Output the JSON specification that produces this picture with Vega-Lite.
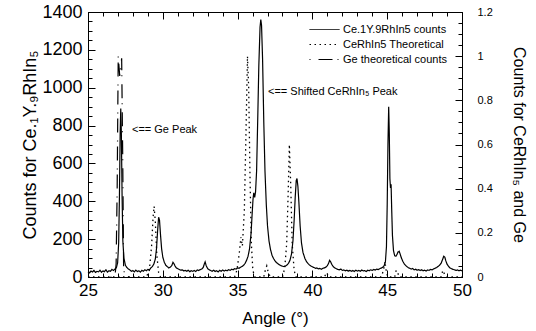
{
  "$schema": "https://vega.github.io/schema/vega-lite/v6.json",
  "width": 374,
  "height": 265,
  "autosize": {"type": "none"},
  "padding": {"left": 88, "top": 12, "right": 74, "bottom": 54},
  "background": "white",
  "config": {
    "font": "Liberation Sans",
    "view": {"stroke": "black", "strokeWidth": 1},
    "axis": {"grid": false, "domainColor": "black", "tickColor": "black", "labelColor": "black", "titleColor": "black", "titleFontWeight": "normal", "labelFont": "Liberation Sans", "titleFont": "Liberation Sans", "labelOverlap": false, "labelFlush": false, "labelBound": false},
    "legend": {"labelFont": "Liberation Sans", "labelFontSize": 11, "labelColor": "black", "symbolType": "M-2,0H2", "symbolSize": 225, "symbolStrokeWidth": 1, "symbolStrokeColor": "black", "symbolFillColor": "transparent", "rowPadding": 2, "labelOffset": 10.5}
  },
  "datasets": {
    "sample": [
      {"angle":25.0,"counts":28},{"angle":25.1,"counts":22},{"angle":25.2,"counts":31},{"angle":25.3,"counts":26},{"angle":25.4,"counts":35},{"angle":25.5,"counts":24},{"angle":25.6,"counts":30},{"angle":25.7,"counts":27},{"angle":25.8,"counts":36},{"angle":25.9,"counts":25},
      {"angle":26.0,"counts":32},{"angle":26.1,"counts":28},{"angle":26.2,"counts":38},{"angle":26.3,"counts":26},{"angle":26.4,"counts":33},{"angle":26.5,"counts":30},{"angle":26.6,"counts":40},{"angle":26.7,"counts":34},{"angle":26.8,"counts":42},{"angle":26.9,"counts":50},
      {"angle":26.98,"counts":75},{"angle":27.05,"counts":180},{"angle":27.1,"counts":420},{"angle":27.15,"counts":760},{"angle":27.19,"counts":890},{"angle":27.23,"counts":760},{"angle":27.28,"counts":420},{"angle":27.33,"counts":190},{"angle":27.4,"counts":100},{"angle":27.5,"counts":62},
      {"angle":27.6,"counts":50},{"angle":27.7,"counts":42},{"angle":27.8,"counts":37},{"angle":27.9,"counts":30},{"angle":28.0,"counts":34},{"angle":28.1,"counts":27},{"angle":28.2,"counts":36},{"angle":28.3,"counts":29},{"angle":28.4,"counts":33},{"angle":28.5,"counts":26},
      {"angle":28.6,"counts":35},{"angle":28.7,"counts":30},{"angle":28.8,"counts":38},{"angle":28.9,"counts":33},{"angle":29.0,"counts":40},{"angle":29.1,"counts":37},{"angle":29.2,"counts":48},{"angle":29.3,"counts":55},{"angle":29.4,"counts":68},{"angle":29.5,"counts":95},
      {"angle":29.58,"counts":150},{"angle":29.65,"counts":240},{"angle":29.72,"counts":316},{"angle":29.78,"counts":300},{"angle":29.85,"counts":220},{"angle":29.92,"counts":150},{"angle":30.0,"counts":105},{"angle":30.1,"counts":78},{"angle":30.2,"counts":62},{"angle":30.3,"counts":55},
      {"angle":30.4,"counts":48},{"angle":30.5,"counts":52},{"angle":30.6,"counts":60},{"angle":30.68,"counts":78},{"angle":30.75,"counts":70},{"angle":30.82,"counts":58},{"angle":30.9,"counts":48},{"angle":31.0,"counts":44},{"angle":31.1,"counts":40},{"angle":31.2,"counts":36},
      {"angle":31.3,"counts":38},{"angle":31.4,"counts":32},{"angle":31.5,"counts":35},{"angle":31.6,"counts":30},{"angle":31.7,"counts":36},{"angle":31.8,"counts":28},{"angle":31.9,"counts":33},{"angle":32.0,"counts":30},{"angle":32.1,"counts":35},{"angle":32.2,"counts":29},
      {"angle":32.3,"counts":37},{"angle":32.4,"counts":34},{"angle":32.5,"counts":39},{"angle":32.6,"counts":42},{"angle":32.7,"counts":50},{"angle":32.78,"counts":70},{"angle":32.83,"counts":80},{"angle":32.9,"counts":60},{"angle":33.0,"counts":44},{"angle":33.1,"counts":38},
      {"angle":33.2,"counts":34},{"angle":33.3,"counts":30},{"angle":33.4,"counts":36},{"angle":33.5,"counts":29},{"angle":33.6,"counts":33},{"angle":33.7,"counts":27},{"angle":33.8,"counts":35},{"angle":33.9,"counts":30},{"angle":34.0,"counts":37},{"angle":34.1,"counts":31},
      {"angle":34.2,"counts":36},{"angle":34.3,"counts":33},{"angle":34.4,"counts":39},{"angle":34.5,"counts":35},{"angle":34.6,"counts":41},{"angle":34.7,"counts":38},{"angle":34.8,"counts":44},{"angle":34.9,"counts":42},{"angle":35.0,"counts":48},{"angle":35.1,"counts":46},
      {"angle":35.2,"counts":52},{"angle":35.3,"counts":56},{"angle":35.4,"counts":62},{"angle":35.5,"counts":72},{"angle":35.6,"counts":88},{"angle":35.7,"counts":110},{"angle":35.8,"counts":150},{"angle":35.9,"counts":230},{"angle":35.97,"counts":330},{"angle":36.03,"counts":410},
      {"angle":36.08,"counts":445},{"angle":36.14,"counts":420},{"angle":36.2,"counts":450},{"angle":36.27,"counts":560},{"angle":36.35,"counts":850},{"angle":36.42,"counts":1120},{"angle":36.5,"counts":1320},{"angle":36.55,"counts":1360},{"angle":36.6,"counts":1330},{"angle":36.67,"counts":1150},
      {"angle":36.75,"counts":820},{"angle":36.83,"counts":560},{"angle":36.92,"counts":380},{"angle":37.0,"counts":270},{"angle":37.1,"counts":190},{"angle":37.2,"counts":145},{"angle":37.3,"counts":115},{"angle":37.4,"counts":98},{"angle":37.5,"counts":85},{"angle":37.6,"counts":76},
      {"angle":37.7,"counts":70},{"angle":37.8,"counts":64},{"angle":37.9,"counts":60},{"angle":38.0,"counts":57},{"angle":38.1,"counts":55},{"angle":38.2,"counts":58},{"angle":38.3,"counts":63},{"angle":38.4,"counts":72},{"angle":38.5,"counts":88},{"angle":38.6,"counts":120},
      {"angle":38.7,"counts":190},{"angle":38.78,"counts":300},{"angle":38.85,"counts":420},{"angle":38.92,"counts":510},{"angle":38.97,"counts":520},{"angle":39.03,"counts":480},{"angle":39.1,"counts":390},{"angle":39.18,"counts":270},{"angle":39.27,"counts":180},{"angle":39.37,"counts":130},
      {"angle":39.5,"counts":98},{"angle":39.6,"counts":82},{"angle":39.7,"counts":72},{"angle":39.8,"counts":64},{"angle":39.9,"counts":58},{"angle":40.0,"counts":54},{"angle":40.1,"counts":50},{"angle":40.2,"counts":46},{"angle":40.3,"counts":48},{"angle":40.4,"counts":43},
      {"angle":40.5,"counts":45},{"angle":40.6,"counts":41},{"angle":40.7,"counts":46},{"angle":40.8,"counts":48},{"angle":40.9,"counts":52},{"angle":41.0,"counts":60},{"angle":41.08,"counts":72},{"angle":41.15,"counts":88},{"angle":41.22,"counts":80},{"angle":41.3,"counts":66},
      {"angle":41.4,"counts":54},{"angle":41.5,"counts":48},{"angle":41.6,"counts":44},{"angle":41.7,"counts":40},{"angle":41.8,"counts":38},{"angle":41.9,"counts":42},{"angle":42.0,"counts":35},{"angle":42.1,"counts":37},{"angle":42.2,"counts":33},{"angle":42.3,"counts":36},
      {"angle":42.4,"counts":31},{"angle":42.5,"counts":35},{"angle":42.6,"counts":30},{"angle":42.7,"counts":34},{"angle":42.8,"counts":29},{"angle":42.9,"counts":36},{"angle":43.0,"counts":31},{"angle":43.1,"counts":35},{"angle":43.2,"counts":30},{"angle":43.3,"counts":37},
      {"angle":43.4,"counts":32},{"angle":43.5,"counts":34},{"angle":43.6,"counts":29},{"angle":43.7,"counts":36},{"angle":43.8,"counts":33},{"angle":43.9,"counts":38},{"angle":44.0,"counts":35},{"angle":44.1,"counts":40},{"angle":44.2,"counts":37},{"angle":44.3,"counts":42},
      {"angle":44.4,"counts":39},{"angle":44.5,"counts":44},{"angle":44.6,"counts":47},{"angle":44.7,"counts":52},{"angle":44.8,"counts":60},{"angle":44.88,"counts":80},{"angle":44.95,"counts":160},{"angle":45.0,"counts":380},{"angle":45.05,"counts":700},{"angle":45.1,"counts":900},
      {"angle":45.14,"counts":760},{"angle":45.18,"counts":520},{"angle":45.22,"counts":470},{"angle":45.26,"counts":490},{"angle":45.3,"counts":360},{"angle":45.35,"counts":220},{"angle":45.42,"counts":140},{"angle":45.5,"counts":112},{"angle":45.58,"counts":110},{"angle":45.65,"counts":118},
      {"angle":45.72,"counts":132},{"angle":45.8,"counts":136},{"angle":45.87,"counts":120},{"angle":45.95,"counts":100},{"angle":46.05,"counts":82},{"angle":46.15,"counts":68},{"angle":46.3,"counts":56},{"angle":46.4,"counts":50},{"angle":46.5,"counts":46},{"angle":46.6,"counts":42},
      {"angle":46.7,"counts":45},{"angle":46.8,"counts":38},{"angle":46.9,"counts":41},{"angle":47.0,"counts":36},{"angle":47.1,"counts":39},{"angle":47.2,"counts":34},{"angle":47.3,"counts":38},{"angle":47.4,"counts":33},{"angle":47.5,"counts":36},{"angle":47.6,"counts":32},
      {"angle":47.7,"counts":37},{"angle":47.8,"counts":35},{"angle":47.9,"counts":40},{"angle":48.0,"counts":38},{"angle":48.1,"counts":43},{"angle":48.2,"counts":46},{"angle":48.3,"counts":50},{"angle":48.4,"counts":56},{"angle":48.5,"counts":62},{"angle":48.6,"counts":72},
      {"angle":48.7,"counts":92},{"angle":48.78,"counts":110},{"angle":48.85,"counts":105},{"angle":48.92,"counts":85},{"angle":49.0,"counts":68},{"angle":49.1,"counts":56},{"angle":49.2,"counts":48},{"angle":49.3,"counts":44},{"angle":49.4,"counts":40},{"angle":49.5,"counts":38},
      {"angle":49.6,"counts":35},{"angle":49.7,"counts":37},{"angle":49.8,"counts":33},{"angle":49.9,"counts":36},{"angle":50.0,"counts":32}
    ],
    "ce": [
      {"angle":25.0,"intensity":0},{"angle":28.9,"intensity":0},{"angle":29.1,"intensity":0.03},{"angle":29.25,"intensity":0.14},{"angle":29.35,"intensity":0.27},{"angle":29.42,"intensity":0.32},{"angle":29.5,"intensity":0.25},{"angle":29.6,"intensity":0.1},{"angle":29.72,"intensity":0.02},{"angle":29.85,"intensity":0},
      {"angle":34.8,"intensity":0},{"angle":34.95,"intensity":0.03},{"angle":35.1,"intensity":0.1},{"angle":35.22,"intensity":0.18},{"angle":35.32,"intensity":0.14},{"angle":35.45,"intensity":0.3},{"angle":35.56,"intensity":0.65},{"angle":35.66,"intensity":1.0},{"angle":35.74,"intensity":0.86},{"angle":35.83,"intensity":0.45},
      {"angle":35.92,"intensity":0.15},{"angle":36.02,"intensity":0.03},{"angle":36.15,"intensity":0},{"angle":36.75,"intensity":0},{"angle":36.85,"intensity":0.03},{"angle":36.95,"intensity":0.05},{"angle":37.05,"intensity":0.02},{"angle":37.2,"intensity":0},
      {"angle":38.0,"intensity":0},{"angle":38.15,"intensity":0.04},{"angle":38.28,"intensity":0.15},{"angle":38.38,"intensity":0.38},{"angle":38.46,"intensity":0.6},{"angle":38.55,"intensity":0.42},{"angle":38.65,"intensity":0.15},{"angle":38.78,"intensity":0.03},{"angle":38.9,"intensity":0},
      {"angle":40.8,"intensity":0},{"angle":40.95,"intensity":0.02},{"angle":41.1,"intensity":0},{"angle":44.6,"intensity":0},{"angle":44.75,"intensity":0.03},{"angle":44.85,"intensity":0.07},{"angle":44.95,"intensity":0.02},{"angle":45.05,"intensity":0},
      {"angle":45.5,"intensity":0},{"angle":45.6,"intensity":0.03},{"angle":45.7,"intensity":0.02},{"angle":45.8,"intensity":0},{"angle":48.6,"intensity":0},{"angle":48.72,"intensity":0.03},{"angle":48.85,"intensity":0.01},{"angle":49.0,"intensity":0},{"angle":50.0,"intensity":0}
    ],
    "ge": [
      {"angle":26.5,"intensity":0},{"angle":26.8,"intensity":0},{"angle":26.88,"intensity":0.06},{"angle":26.95,"intensity":0.4},{"angle":27.02,"intensity":1.0},{"angle":27.12,"intensity":0.91},{"angle":27.25,"intensity":0.99},{"angle":27.32,"intensity":0.55},{"angle":27.38,"intensity":0.05},{"angle":27.45,"intensity":0},{"angle":27.8,"intensity":0}
    ],
    "notes": [
      {"angle":27.94,"counts":774,"label":"<== Ge Peak"},
      {"angle":37.03,"counts":979,"label":"<== Shifted CeRhIn₅ Peak"}
    ]
  },
  "layer": [
    {
      "encoding": {
        "x": {"field": "angle", "type": "quantitative", "scale": {"domain": [25, 50], "nice": false, "zero": false},
          "axis": {"orient": "bottom", "title": "Angle (°)", "titleFontSize": 17, "titlePadding": 9, "labelFontSize": 17, "labelPadding": 12,
            "values": [25,26,27,28,29,30,31,32,33,34,35,36,37,38,39,40,41,42,43,44,45,46,47,48,49,50],
            "labelExpr": "datum.value % 5 === 0 ? datum.label : ''",
            "tickSize": {"condition": {"test": "datum.value % 5 === 0", "value": -7}, "value": -4}}},
        "y": {"field": "counts", "type": "quantitative", "scale": {"domain": [0, 1400], "nice": false},
          "axis": {"orient": "left", "title": "Counts for Ce.₁Y.₉RhIn₅", "titleFontSize": 18, "titlePadding": 2, "labelFontSize": 18, "labelPadding": 13, "format": "d",
            "values": [0,50,100,150,200,250,300,350,400,450,500,550,600,650,700,750,800,850,900,950,1000,1050,1100,1150,1200,1250,1300,1350,1400],
            "labelExpr": "datum.value % 200 === 0 ? datum.label : ''",
            "tickSize": {"condition": {"test": "datum.value % 200 === 0", "value": -7}, "value": -4}}}
      },
      "layer": [
        {"data": {"name": "sample"}, "mark": {"type": "line", "color": "black", "strokeWidth": 1.2},
          "encoding": {"strokeDash": {"datum": "Ce.1Y.9RhIn5 counts", "type": "nominal",
            "scale": {"domain": ["Ce.1Y.9RhIn5 counts", "CeRhIn5 Theoretical", "Ge theoretical counts"], "range": [[1, 0], [1.5, 3.5], [1, 8, 14, 5]]},
            "legend": {"title": null, "orient": "none", "legendX": 228.5, "legendY": 9.5}}}},
        {"data": {"name": "notes"}, "mark": {"type": "text", "align": "left", "baseline": "middle", "fontSize": 11, "color": "black"},
          "encoding": {"text": {"field": "label"}}}
      ]
    },
    {
      "encoding": {
        "x": {"field": "angle", "type": "quantitative", "scale": {"domain": [25, 50], "nice": false, "zero": false},
          "axis": {"orient": "top", "title": null, "labels": false,
            "values": [25,26,27,28,29,30,31,32,33,34,35,36,37,38,39,40,41,42,43,44,45,46,47,48,49,50],
            "tickSize": {"condition": {"test": "datum.value % 5 === 0", "value": -7}, "value": -4}}},
        "y": {"field": "intensity", "type": "quantitative", "scale": {"domain": [0, 1.2], "nice": false},
          "axis": {"orient": "right", "title": "Counts for CeRhIn₅ and Ge", "titleFontSize": 16, "titlePadding": 18, "labelFontSize": 11, "labelPadding": 22,
            "values": [0,0.05,0.1,0.15,0.2,0.25,0.3,0.35,0.4,0.45,0.5,0.55,0.6,0.65,0.7,0.75,0.8,0.85,0.9,0.95,1,1.05,1.1,1.15,1.2],
            "labelExpr": "abs(datum.value*5 - round(datum.value*5)) < 0.001 ? format(datum.value, '~g') : ''",
            "tickSize": {"condition": {"test": "abs(datum.value*5 - round(datum.value*5)) < 0.001", "value": -7}, "value": -4}}}
      },
      "layer": [
        {"data": {"name": "ce"}, "mark": {"type": "line", "color": "black", "strokeWidth": 1.3},
          "encoding": {"strokeDash": {"datum": "CeRhIn5 Theoretical", "type": "nominal"}}},
        {"data": {"name": "ge"}, "mark": {"type": "line", "color": "black", "strokeWidth": 1.2},
          "encoding": {"strokeDash": {"datum": "Ge theoretical counts", "type": "nominal"}}}
      ]
    }
  ],
  "resolve": {"scale": {"x": "independent", "y": "independent"}}
}
